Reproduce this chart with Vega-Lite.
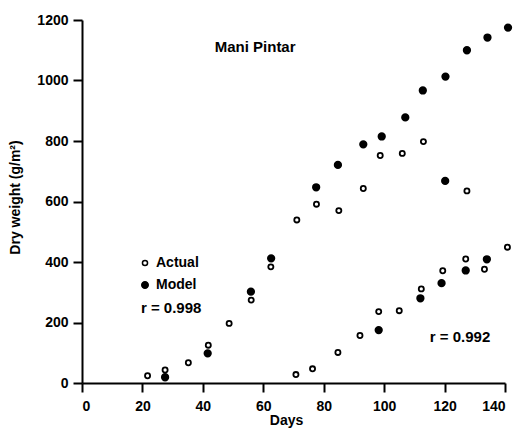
{
  "$schema": "https://vega.github.io/schema/vega-lite/v6.json",
  "width": 423,
  "height": 363,
  "autosize": "none",
  "padding": {"left": 82, "top": 20, "right": 13, "bottom": 53},
  "background": "white",
  "config": {
    "view": {"stroke": null},
    "font": "Liberation Sans",
    "axis": {
      "grid": false,
      "ticks": true,
      "tickColor": "black",
      "tickSize": 9,
      "tickWidth": 2,
      "domainColor": "black",
      "domainWidth": 2,
      "format": "d",
      "labelFont": "Liberation Sans",
      "labelFontWeight": "bold",
      "labelFontSize": 14,
      "labelColor": "black",
      "titleFont": "Liberation Sans",
      "titleFontWeight": "bold",
      "titleFontSize": 14,
      "titleColor": "black"
    }
  },
  "layer": [
    {
      "data": {
        "values": [
          {"day": 21.7, "weight": 24, "type": "Actual", "planting": "early"},
          {"day": 27.5, "weight": 43, "type": "Actual", "planting": "early"},
          {"day": 35.2, "weight": 67, "type": "Actual", "planting": "early"},
          {"day": 41.8, "weight": 125, "type": "Actual", "planting": "early"},
          {"day": 48.7, "weight": 197, "type": "Actual", "planting": "early"},
          {"day": 56.0, "weight": 274, "type": "Actual", "planting": "early"},
          {"day": 62.5, "weight": 384, "type": "Actual", "planting": "early"},
          {"day": 71.1, "weight": 539, "type": "Actual", "planting": "early"},
          {"day": 77.6, "weight": 591, "type": "Actual", "planting": "early"},
          {"day": 85.0, "weight": 570, "type": "Actual", "planting": "early"},
          {"day": 93.1, "weight": 643, "type": "Actual", "planting": "early"},
          {"day": 98.7, "weight": 752, "type": "Actual", "planting": "early"},
          {"day": 106.0, "weight": 759, "type": "Actual", "planting": "early"},
          {"day": 113.0, "weight": 798, "type": "Actual", "planting": "early"},
          {"day": 127.4, "weight": 635, "type": "Actual", "planting": "early"},
          {"day": 27.5, "weight": 19, "type": "Model", "planting": "early"},
          {"day": 41.6, "weight": 98, "type": "Model", "planting": "early"},
          {"day": 55.9, "weight": 302, "type": "Model", "planting": "early"},
          {"day": 62.6, "weight": 412, "type": "Model", "planting": "early"},
          {"day": 77.5, "weight": 647, "type": "Model", "planting": "early"},
          {"day": 84.7, "weight": 721, "type": "Model", "planting": "early"},
          {"day": 93.1, "weight": 789, "type": "Model", "planting": "early"},
          {"day": 99.2, "weight": 815, "type": "Model", "planting": "early"},
          {"day": 107.0, "weight": 878, "type": "Model", "planting": "early"},
          {"day": 112.8, "weight": 967, "type": "Model", "planting": "early"},
          {"day": 120.3, "weight": 1013, "type": "Model", "planting": "early"},
          {"day": 120.2, "weight": 668, "type": "Model", "planting": "early"},
          {"day": 127.4, "weight": 1100, "type": "Model", "planting": "early"},
          {"day": 134.2, "weight": 1142, "type": "Model", "planting": "early"},
          {"day": 141.0, "weight": 1175, "type": "Model", "planting": "early"},
          {"day": 70.8, "weight": 28, "type": "Actual", "planting": "late"},
          {"day": 76.3, "weight": 47, "type": "Actual", "planting": "late"},
          {"day": 84.7, "weight": 101, "type": "Actual", "planting": "late"},
          {"day": 92.0, "weight": 157, "type": "Actual", "planting": "late"},
          {"day": 98.2, "weight": 236, "type": "Actual", "planting": "late"},
          {"day": 105.0, "weight": 239, "type": "Actual", "planting": "late"},
          {"day": 112.3, "weight": 311, "type": "Actual", "planting": "late"},
          {"day": 119.4, "weight": 371, "type": "Actual", "planting": "late"},
          {"day": 127.0, "weight": 410, "type": "Actual", "planting": "late"},
          {"day": 133.2, "weight": 376, "type": "Actual", "planting": "late"},
          {"day": 140.8, "weight": 449, "type": "Actual", "planting": "late"},
          {"day": 98.2, "weight": 175, "type": "Model", "planting": "late"},
          {"day": 112.0, "weight": 280, "type": "Model", "planting": "late"},
          {"day": 119.0, "weight": 330, "type": "Model", "planting": "late"},
          {"day": 127.0, "weight": 372, "type": "Model", "planting": "late"},
          {"day": 134.0, "weight": 409, "type": "Model", "planting": "late"}
        ]
      },
      "mark": {"type": "point", "shape": "circle", "stroke": "black", "strokeWidth": 1.8, "opacity": 1},
      "encoding": {
        "x": {
          "field": "day", "type": "quantitative",
          "scale": {"domain": [0, 140], "nice": false, "zero": false},
          "axis": {
            "title": "Days", "tickCount": 7, "ticks": true, "tickSize": 9, "tickColor": "black",
            "labelPadding": 7, "titleX": 204, "titleY": 37, "titleBaseline": "middle",
            "titleAlign": "center"
          }
        },
        "y": {
          "field": "weight", "type": "quantitative",
          "scale": {"domain": [0, 1200], "nice": false},
          "axis": {
            "title": "Dry weight (g/m²)", "tickCount": 6, "ticks": true, "tickSize": 9, "tickColor": "black",
            "labelPadding": 5, "titleX": -67, "titleY": 177, "titleAngle": -90,
            "titleBaseline": "middle", "titleAlign": "center"
          }
        },
        "fill": {
          "field": "type", "type": "nominal",
          "scale": {"domain": ["Actual", "Model"], "range": ["white", "black"]},
          "legend": {
            "title": null, "orient": "none", "legendX": 56, "legendY": 236,
            "padding": 0, "rowPadding": 8, "labelOffset": 4,
            "labelFont": "Liberation Sans", "labelFontWeight": "bold", "labelFontSize": 14,
            "labelColor": "black", "symbolType": "circle",
            "encode": {"symbols": {"update": {"stroke": {"value": "black"}, "strokeWidth": {"value": 1.8}}}}
          }
        },
        "size": {
          "field": "type", "type": "nominal",
          "scale": {"domain": ["Actual", "Model"], "range": [26, 42]},
          "legend": {
            "title": null, "orient": "none", "legendX": 56, "legendY": 236,
            "padding": 0, "rowPadding": 8, "labelOffset": 4,
            "labelFont": "Liberation Sans", "labelFontWeight": "bold", "labelFontSize": 14,
            "labelColor": "black", "symbolType": "circle",
            "encode": {"symbols": {"update": {"stroke": {"value": "black"}, "strokeWidth": {"value": 1.8}}}}
          }
        }
      }
    },
    {
      "data": {"values": [{"day": 57.3, "weight": 1111, "label": "Mani Pintar"}]},
      "mark": {"type": "text", "align": "center", "baseline": "middle", "font": "Liberation Sans", "fontWeight": "bold", "fontSize": 15, "color": "black"},
      "encoding": {
        "x": {"field": "day", "type": "quantitative", "axis": {
            "title": "Days", "tickCount": 7, "ticks": true, "tickSize": 9, "tickColor": "black",
            "labelPadding": 7, "titleX": 204, "titleY": 37, "titleBaseline": "middle",
            "titleAlign": "center"
          }},
        "y": {"field": "weight", "type": "quantitative", "axis": {
            "title": "Dry weight (g/m²)", "tickCount": 6, "ticks": true, "tickSize": 9, "tickColor": "black",
            "labelPadding": 5, "titleX": -67, "titleY": 177, "titleAngle": -90,
            "titleBaseline": "middle", "titleAlign": "center"
          }},
        "text": {"field": "label"}
      }
    },
    {
      "data": {"values": [
        {"day": 19.5, "weight": 248, "label": "r = 0.998"},
        {"day": 115.1, "weight": 152, "label": "r = 0.992"}
      ]},
      "mark": {"type": "text", "align": "left", "baseline": "middle", "font": "Liberation Sans", "fontWeight": "bold", "fontSize": 15, "letterSpacing": 0.6, "color": "black"},
      "encoding": {
        "x": {"field": "day", "type": "quantitative", "axis": {
            "title": "Days", "tickCount": 7, "ticks": true, "tickSize": 9, "tickColor": "black",
            "labelPadding": 7, "titleX": 204, "titleY": 37, "titleBaseline": "middle",
            "titleAlign": "center"
          }},
        "y": {"field": "weight", "type": "quantitative", "axis": {
            "title": "Dry weight (g/m²)", "tickCount": 6, "ticks": true, "tickSize": 9, "tickColor": "black",
            "labelPadding": 5, "titleX": -67, "titleY": 177, "titleAngle": -90,
            "titleBaseline": "middle", "titleAlign": "center"
          }},
        "text": {"field": "label"}
      }
    }
  ]
}
